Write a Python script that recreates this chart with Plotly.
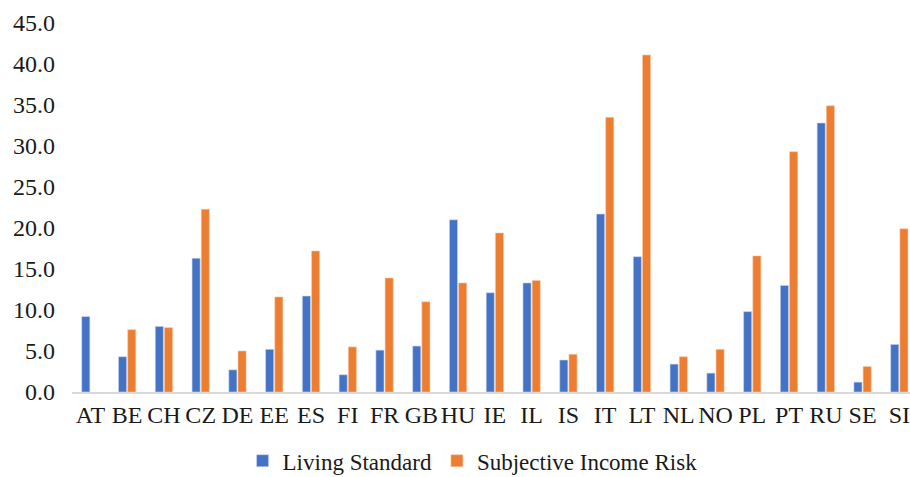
import plotly.graph_objects as go

countries = ["AT", "BE", "CH", "CZ", "DE", "EE", "ES", "FI", "FR", "GB", "HU", "IE",
             "IL", "IS", "IT", "LT", "NL", "NO", "PL", "PT", "RU", "SE", "SI"]
living_standard = [9.2, 4.3, 8.0, 16.3, 2.7, 5.2, 11.7, 2.1, 5.1, 5.6, 21.0, 12.1,
                   13.3, 3.9, 21.7, 16.5, 3.4, 2.3, 9.8, 13.0, 32.8, 1.2, 5.8]
income_risk = [None, 7.6, 7.85, 22.3, 5.0, 11.6, 17.2, 5.5, 13.9, 11.0, 13.3, 19.4,
               13.6, 4.6, 33.5, 41.1, 4.3, 5.2, 16.6, 29.3, 34.9, 3.1, 19.9]
y_ticks = [0, 5, 10, 15, 20, 25, 30, 35, 40, 45]

BLUE = "#4472C4"
ORANGE = "#ED7D31"
FONT = "Liberation Serif"
TEXT = "#1a1a1a"

fig = go.Figure()
fig.add_trace(go.Bar(x=countries, y=living_standard, name="Living Standard",
                     marker=dict(color=BLUE, line=dict(color="#c9d5ee", width=0.6))))
fig.add_trace(go.Bar(x=countries, y=income_risk, name="Subjective Income Risk",
                     marker=dict(color=ORANGE, line=dict(color="#f7c9a9", width=0.6))))

fig.update_layout(
    width=910, height=477,
    margin=dict(l=72, r=0, t=23, b=85, autoexpand=False),
    plot_bgcolor="white", paper_bgcolor="white",
    barmode="group", bargap=0.5, bargroupgap=0.12,
    font=dict(family=FONT, size=24, color=TEXT),
    showlegend=True,
    legend=dict(orientation="h", x=0.478, xanchor="center", y=-0.128, yanchor="top",
                font=dict(family=FONT, size=23, color=TEXT),
                itemwidth=30, traceorder="normal"),
)
fig.update_xaxes(
    type="category", range=[-0.5, 22.29],
    showgrid=False, showline=True, linecolor="#d9d9d9", linewidth=1.5,
    ticks="", tickfont=dict(family=FONT, size=24, color=TEXT),
)
fig.update_yaxes(
    range=[0, 45], tickvals=y_ticks, ticktext=[f"{v:.1f}" for v in y_ticks],
    showgrid=False, showline=False, zeroline=False, ticks="",
    ticklabelstandoff=16,
    tickfont=dict(family=FONT, size=24, color=TEXT),
)

fig.write_html("out.html")
